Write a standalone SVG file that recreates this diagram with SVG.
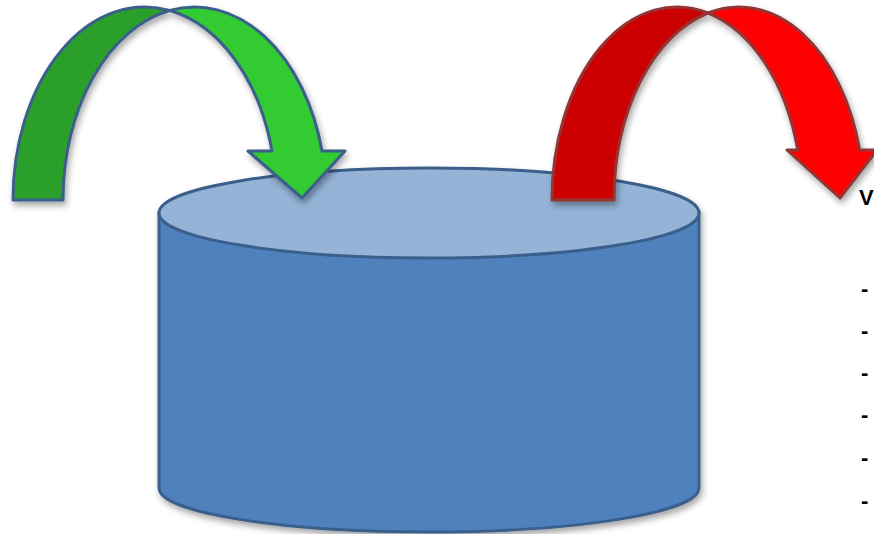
<svg xmlns="http://www.w3.org/2000/svg" width="874" height="534" viewBox="0 0 874 534">
<defs>
<filter id="sh" x="-20%" y="-20%" width="140%" height="140%">
<feDropShadow dx="2" dy="4" stdDeviation="3" flood-color="#000" flood-opacity="0.35"/>
</filter>
</defs>
<style>
.cyl{stroke:#3A5F8B;stroke-width:3}
.g{stroke:#3A5F8B;stroke-width:3;stroke-linejoin:round}
.r{stroke:#943634;stroke-width:3;stroke-linejoin:round}
.t{font-family:"Liberation Sans",Arial,sans-serif;font-size:22px;font-weight:bold;fill:#000}
</style>
<rect width="874" height="534" fill="#fff"/>
<g id="cylinder" filter="url(#sh)">
<path class="cyl" d="M159,213 L159,488 A270,44 0 0 0 699,488 L699,213 Z" fill="#4F81BD"/>
<ellipse class="cyl" cx="429" cy="213" rx="270" ry="45" fill="#95B3D7"/>
</g>
<g id="connectors">
<g id="green-arrow" filter="url(#sh)">
<path class="g" fill="#2CA02C" d="M13,200 A131.7,193 0 0 1 169.7,10.5 A131.7,193 0 0 0 63,200 Z"/>
<path class="g" fill="#33CC33" d="M169.7,10.5 A131.7,193 0 0 1 322,151 L345,151 L302,198 L248,151 L272,151 A131.7,193 0 0 0 169.7,10.5 Z"/>
</g>
<g id="red-arrow" filter="url(#sh)">
<path class="r" fill="#CC0000" d="M552,200 A125,193 0 0 1 708,13 A125,193 0 0 0 614,200 Z"/>
<path class="r" fill="#FF0000" d="M708,13 A125,193 0 0 1 859.7,150 L877,150 L840,198 L787,150 L797.7,150 A125,193 0 0 0 708,13 Z"/>
</g>
</g>
<g id="text">
<text class="t" x="859" y="205">V</text>
<text class="t" x="861" y="296">-</text>
<text class="t" x="861" y="338">-</text>
<text class="t" x="861" y="380">-</text>
<text class="t" x="861" y="422">-</text>
<text class="t" x="861" y="465">-</text>
<text class="t" x="861" y="508">-</text>
</g>
</svg>
